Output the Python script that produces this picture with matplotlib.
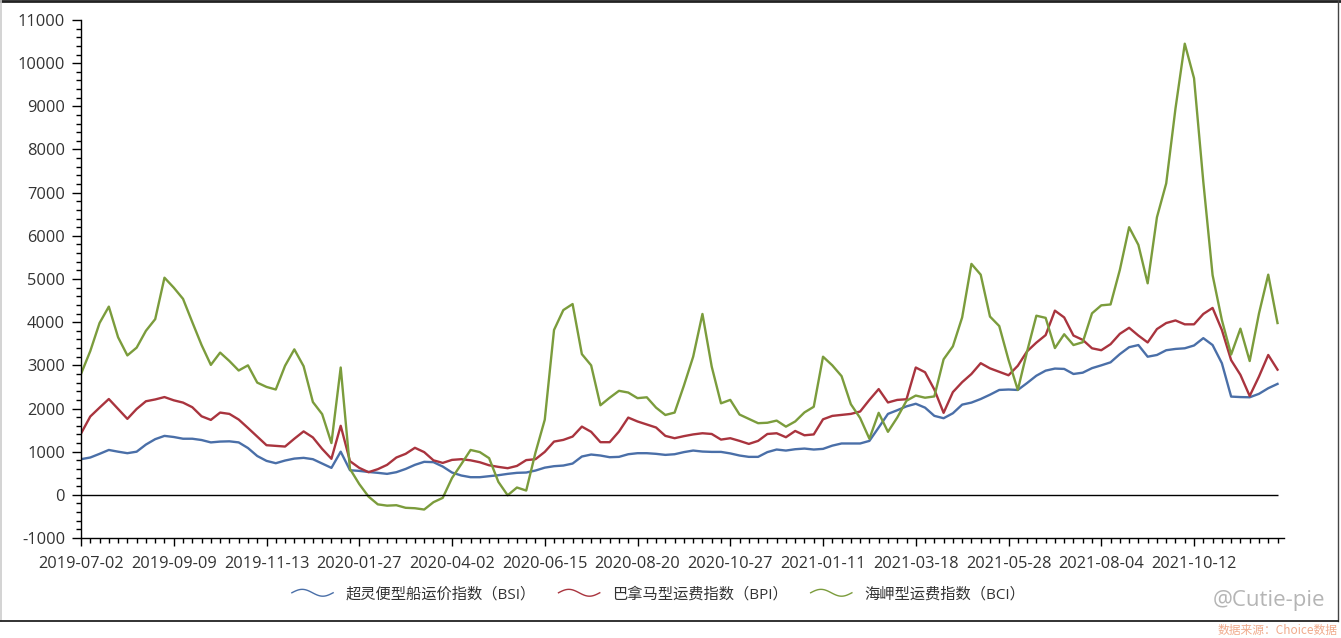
import numpy as np
import matplotlib
matplotlib.use('Agg')
import matplotlib.pyplot as plt
from matplotlib.lines import Line2D
from matplotlib.legend_handler import HandlerLine2D
from matplotlib.ticker import FixedLocator, MultipleLocator

plt.rcParams['font.family'] = ['Open Sans', 'Noto Sans CJK SC', 'DejaVu Sans']
plt.rcParams['axes.unicode_minus'] = False

# x axis: trading days, one label every 50 days
tick_dates = ['2019-07-02', '2019-09-09', '2019-11-13', '2020-01-27', '2020-04-02',
              '2020-06-15', '2020-08-20', '2020-10-27', '2021-01-11', '2021-03-18',
              '2021-05-28', '2021-08-04', '2021-10-12']
label_every = 50
step = 5  # values below are read every 5th trading day

names = ['超灵便型船运价指数（BSI）', '巴拿马型运费指数（BPI）', '海岬型运费指数（BCI）']

bsi = [826, 865, 950, 1040, 1000, 965, 1000, 1165, 1290, 1366,
       1340, 1300, 1300, 1270, 1215, 1234, 1240, 1215, 1085, 900,
       787, 733, 795, 840, 857, 826, 725, 625, 1000, 570,
       555, 530, 510, 486, 525, 600, 695, 765, 757, 656,
       517, 448, 409, 409, 432, 455, 486, 510, 517, 563,
       630, 664, 679, 725, 888, 934, 911, 872, 880, 941,
       965, 965, 950, 926, 941, 990, 1026, 1003, 995, 995,
       960, 911, 880, 880, 990, 1050, 1026, 1057, 1072, 1050,
       1065, 1140, 1190, 1190, 1190, 1250, 1560, 1875, 1960, 2050,
       2110, 2020, 1830, 1775, 1890, 2090, 2137, 2220, 2320, 2430,
       2440, 2430, 2590, 2760, 2877, 2925, 2917, 2800, 2830, 2935,
       3000, 3070, 3260, 3420, 3470, 3200, 3240, 3350, 3380, 3395,
       3460, 3630, 3470, 3050, 2276, 2265, 2260, 2340, 2470, 2570]

bpi = [1420, 1815, 2020, 2220, 1990, 1760, 1990, 2168, 2210, 2265,
       2190, 2137, 2030, 1820, 1736, 1906, 1875, 1745, 1550, 1350,
       1150, 1134, 1119, 1300, 1470, 1330, 1065, 835, 1600, 780,
       625, 525, 595, 695, 865, 950, 1090, 990, 800, 740,
       810, 826, 800, 755, 685, 648, 617, 670, 805, 826,
       995, 1234, 1273, 1350, 1581, 1460, 1220, 1220, 1466, 1790,
       1700, 1630, 1560, 1366, 1312, 1360, 1400, 1427, 1410, 1280,
       1312, 1250, 1180, 1250, 1410, 1427, 1335, 1480, 1380, 1400,
       1750, 1829, 1852, 1875, 1930, 2200, 2450, 2140, 2199, 2215,
       2950, 2840, 2440, 1900, 2380, 2610, 2800, 3050, 2930, 2850,
       2770, 2990, 3325, 3526, 3700, 4267, 4110, 3690, 3590, 3395,
       3350, 3490, 3730, 3870, 3690, 3530, 3840, 3980, 4040, 3950,
       3950, 4190, 4330, 3820, 3120, 2780, 2290, 2740, 3240, 2900]

bci = [2800, 3330, 3980, 4360, 3650, 3230, 3410, 3800, 4070, 5030,
       4800, 4540, 4000, 3470, 3010, 3295, 3100, 2880, 3000, 2600,
       2500, 2440, 2990, 3370, 2980, 2150, 1870, 1200, 2950, 600,
       250, -40, -220, -250, -240, -300, -310, -340, -170, -70,
       390, 710, 1040, 990, 850, 300, -10, 170, 100, 980,
       1740, 3820, 4280, 4420, 3260, 3000, 2075, 2250, 2410, 2370,
       2240, 2260, 2020, 1850, 1906, 2530, 3200, 4190, 2970, 2120,
       2200, 1860, 1760, 1660, 1670, 1720, 1580, 1700, 1910, 2040,
       3200, 3000, 2750, 2100, 1780, 1300, 1900, 1460, 1790, 2180,
       2300, 2250, 2280, 3140, 3440, 4110, 5350, 5100, 4130, 3910,
       3125, 2430, 3320, 4150, 4100, 3400, 3720, 3470, 3535, 4205,
       4390, 4410, 5210, 6200, 5790, 4900, 6430, 7215, 8950, 10450,
       9650, 7250, 5090, 4050, 3250, 3850, 3100, 4200, 5100, 3980]

colors = ['#4a6fa8', '#a9343e', '#7b9c3c']


class WaveHandler(HandlerLine2D):
    def create_artists(self, legend, orig_handle, xdescent, ydescent,
                       width, height, fontsize, trans):
        t = np.linspace(0, 1, 50)
        xs = -xdescent + t * width
        ys = -ydescent + height / 2 + np.sin(t * 2 * np.pi) * height * 0.32
        wave = Line2D(xs, ys, color=orig_handle.get_color(), lw=1.0)
        wave.set_transform(trans)
        return [wave]


x = np.arange(len(bsi)) * step

fig = plt.figure(figsize=(13.41, 6.38), dpi=100)
ax = fig.add_axes([0.0604, 0.1567, 0.8971, 0.812])

lines = []
for vals, c in zip([bsi, bpi, bci], colors):
    ln, = ax.plot(x, vals, color=c, lw=1.7, solid_joinstyle='round')
    lines.append(ln)

ax.hlines(0, x[0], x[-1], color='black', lw=1)

ax.set_ylim(-1000, 11000)
ax.set_xlim(0, 648.5)
ax.yaxis.set_major_locator(MultipleLocator(1000))
ax.yaxis.set_minor_locator(MultipleLocator(200))
ax.xaxis.set_major_locator(FixedLocator(np.arange(len(tick_dates)) * label_every))
ax.xaxis.set_minor_locator(MultipleLocator(step))
ax.set_xticklabels(tick_dates)

for s in ['top', 'right']:
    ax.spines[s].set_visible(False)
for s in ['left', 'bottom']:
    ax.spines[s].set_color('black')
    ax.spines[s].set_linewidth(1)

ax.tick_params(axis='y', which='major', length=6.5, width=1, pad=5,
               labelsize=11.8, labelcolor='#333333')
ax.tick_params(axis='y', which='minor', length=3.5, width=1)
ax.tick_params(axis='x', which='major', length=6, width=1, pad=7,
               labelsize=11.8, labelcolor='#333333')
ax.tick_params(axis='x', which='minor', length=3.5, width=1)

fig.legend(lines, names, loc='center', bbox_to_anchor=(0.491, 0.068), ncol=3,
           frameon=False, handlelength=2.7, handletextpad=0.8, columnspacing=1.5,
           fontsize=11, labelcolor='#333333',
           handler_map={Line2D: WaveHandler()})

# outer frame of the picture
fig.add_artist(Line2D([0, 1], [0.999, 0.999], color='#222222', lw=2))
fig.add_artist(Line2D([0.0008, 0.0008], [0.0266, 1], color='#cccccc', lw=1.2))
fig.add_artist(Line2D([0.9978, 0.9978], [0.0266, 1], color='#444444', lw=1))
fig.add_artist(Line2D([0, 0.9978], [0.0266, 0.0266], color='#222222', lw=1.3))

fig.text(0.9885, 0.0590, '@Cutie-pie', ha='right', va='center', fontsize=16,
         color='#b5b5b5')
fig.text(0.9975, 0.0120, '数据来源：Choice数据', ha='right', va='center',
         fontsize=8.5, color='#f0ab8c', family=['Noto Sans CJK SC', 'DejaVu Sans'])

fig.savefig('out.png', dpi=100)
